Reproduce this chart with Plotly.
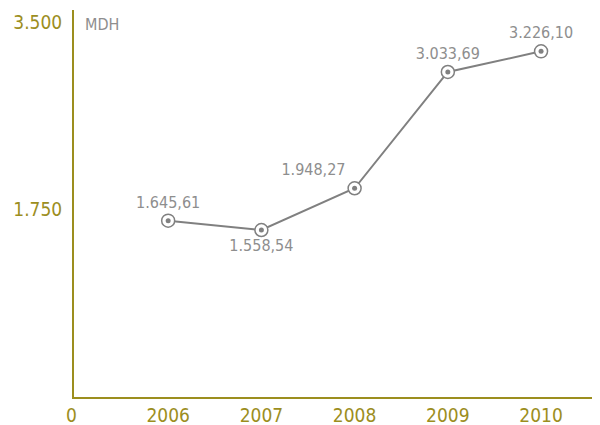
import plotly.graph_objects as go

years = [2006, 2007, 2008, 2009, 2010]
values = [1645.61, 1558.54, 1948.27, 3033.69, 3226.10]
y_ticks = [1750, 3500]
y_tick_labels = ["1.750", "3.500"]
label_pos = ["top center", "bottom center", "top left", "top center", "top center"]

olive = "#9c8e1e"
grey = "#808080"
text_grey = "#8e8e8e"
font = "Liberation Sans Narrow, DejaVu Sans Condensed, Arial Narrow, sans-serif"


def fmt(v):
    s = f"{v:,.2f}"
    return s.replace(",", " ").replace(".", ",").replace(" ", ".")


fig = go.Figure()

fig.add_trace(go.Scatter(
    x=years, y=values, mode="lines+markers+text",
    line=dict(color=grey, width=2),
    marker=dict(size=13, color="white", line=dict(color=grey, width=1.5)),
    text=[fmt(v) for v in values], textposition=label_pos,
    textfont=dict(family=font, size=16, color=text_grey),
    cliponaxis=False, hoverinfo="skip"
))
fig.add_trace(go.Scatter(
    x=years, y=values, mode="markers",
    marker=dict(size=5, color=grey), cliponaxis=False
))

# page body has an 8px margin, so the figure is a bit smaller than the window
fig.update_layout(
    width=592, height=417,
    margin=dict(l=66, r=3, t=2, b=28, autoexpand=False),
    paper_bgcolor="white", plot_bgcolor="white",
    showlegend=False,
    font=dict(family=font, color=olive, size=19),
    xaxis=dict(range=[2004.99, 2010.6], tickvals=years, showgrid=False, zeroline=False,
               showline=True, linecolor=olive, linewidth=2, automargin=False,
               ticks="outside", ticklen=0, ticklabelstandoff=0,
               tickfont=dict(size=19, color=olive)),
    yaxis=dict(range=[0, 3612], tickvals=y_ticks, ticktext=y_tick_labels, showgrid=False,
               zeroline=False, showline=True, linecolor=olive, linewidth=2, automargin=False,
               ticklabelstandoff=6, tickfont=dict(size=19, color=olive)),
    annotations=[
        dict(text="0", xref="paper", yref="paper", x=0, y=0, xshift=-3, yshift=-18,
             xanchor="center", yanchor="middle", showarrow=False,
             font=dict(size=19, color=olive)),
        dict(text="MDH", xref="paper", yref="paper", x=0, y=1, xshift=9, yshift=-14,
             xanchor="left", yanchor="middle", showarrow=False,
             font=dict(size=16, color=text_grey)),
    ],
)

fig.write_html("out.html")
